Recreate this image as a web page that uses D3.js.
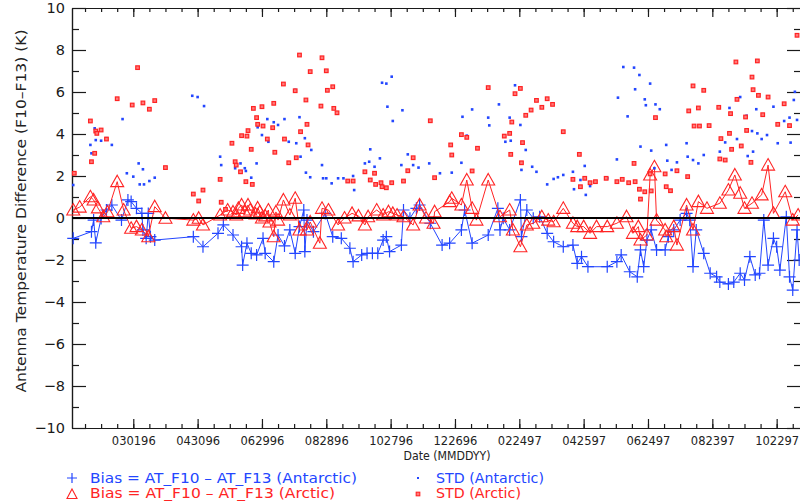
<!DOCTYPE html>
<html><head><meta charset="utf-8">
<script src="https://cdn.jsdelivr.net/npm/d3@7"></script>
<style>body{margin:0;background:#fff}svg{display:block}</style>
</head><body>
<svg id="chart" width="800" height="504"></svg>
<script>
// Day numbers count days since 1 Jan 1996 (UTC).
const epoch = Date.UTC(1996, 0, 1);
const dayToDate = d => new Date(epoch + d * 86400000);

const xDomainDays = [2.85, 682.7];
const majorTickDays = d3.range(60, 661, 60);
const minorTickDays = d3.range(15, 682, 15);
const yMajorTicks = d3.range(-10, 11, 2);
const yMinorTicks = d3.range(-9, 10, 2);

// Bias = AT_F10 - AT_F13 (Antarctic): [day, K]
const antBias = [[4,-0.97],[21,-0.65],[23,-0.10],[25,-1.18],[30,-0.02],[35,0.38],[40,0.62],[49,-0.10],[55,0.86],[58,0.78],[63,0.46],[68,0.22],[69,-0.57],[72,-0.97],[74,0.22],[76,-0.89],[80,-1.05],[116,-0.89],[125,-1.37],[139,-0.73],[144,-0.33],[153,-0.81],[161,-1.37],[162,-2.24],[166,-1.20],[170,-1.68],[175,-1.76],[181,-0.97],[183,-1.68],[191,-2.08],[195,-0.81],[201,-1.33],[206,-0.57],[211,-1.68],[215,-0.41],[219,0.38],[220,-1.60],[222,-0.10],[228,-0.65],[239,0.22],[246,-0.89],[254,-0.97],[262,-1.44],[265,-2.08],[273,-1.76],[278,-1.68],[283,-1.68],[288,-1.68],[293,-1.05],[296,-0.89],[299,-1.60],[310,-1.29],[312,0.38],[318,-0.01],[324,0.46],[327,0.62],[337,-0.25],[348,-1.29],[355,-1.20],[366,-0.57],[369,0.38],[376,-1.20],[391,-0.81],[400,0.46],[402,-0.57],[405,-0.01],[411,-0.57],[421,0.86],[422,-0.89],[427,0.38],[433,-0.01],[439,0.06],[446,-0.73],[452,-1.13],[461,-1.37],[470,-1.29],[474,-2.16],[478,-1.84],[484,-2.32],[502,-2.32],[511,-2.08],[515,-1.76],[523,-2.56],[530,-2.80],[533,-1.52],[536,-2.32],[539,-1.05],[543,-0.57],[548,-1.52],[556,-1.52],[559,-0.89],[564,-0.57],[570,-0.10],[576,0.22],[579,-0.10],[582,-2.32],[585,-0.57],[592,-1.68],[598,-2.63],[604,-2.80],[607,-3.05],[615,-3.14],[620,-3.05],[626,-2.63],[630,-2.95],[635,-1.84],[640,-2.71],[644,-2.63],[648,-0.10],[652,-2.24],[657,-0.97],[660,-1.37],[663,-2.48],[669,0.06],[672,-2.80],[675,-3.43],[679,-0.57],[681,-2.00]];

// Bias = AT_F10 - AT_F13 (Arctic): [day, K]
const arcBias = [[4,0.38],[10,0.52],[20,1.01],[23,0.86],[27,0.48],[32,0.06],[36,0.29],[45,1.73],[51,0.38],[58,-0.49],[63,-0.41],[68,-0.57],[74,-0.89],[80,0.54],[90,-0.01],[116,-0.10],[121,-0.01],[125,-0.33],[141,0.14],[148,0.38],[153,0.29],[156,0.14],[158,0.46],[161,0.62],[164,0.29],[167,0.62],[169,0.38],[174,0.19],[176,0.48],[178,0.29],[180,0.00],[183,0.10],[186,0.38],[187,-0.19],[191,-0.89],[193,0.29],[195,-0.10],[200,0.86],[206,0.14],[211,0.94],[215,-0.57],[222,-0.57],[225,-0.19],[234,-1.20],[236,0.46],[242,0.38],[251,-0.33],[257,0.00],[264,0.22],[270,0.10],[276,-0.33],[279,0.06],[287,0.38],[293,0.14],[298,0.30],[302,0.22],[306,0.14],[312,0.06],[321,-0.33],[327,0.62],[333,0.00],[340,-0.25],[341,0.30],[355,0.78],[357,0.94],[366,0.62],[371,1.81],[376,0.46],[380,-0.10],[391,1.81],[402,0.06],[411,0.38],[414,-0.57],[421,-1.37],[427,-0.33],[433,-0.25],[441,0.06],[447,-0.10],[452,-0.18],[461,0.46],[470,-0.25],[474,-0.41],[480,-0.41],[486,-0.73],[492,-0.41],[502,-0.41],[511,-0.25],[520,0.06],[526,-0.73],[531,-0.41],[533,-1.05],[539,-0.81],[542,2.05],[546,2.44],[548,-0.10],[556,-0.57],[557,-0.89],[564,-0.41],[567,-1.29],[576,0.62],[582,-0.57],[587,0.78],[595,0.46],[607,0.70],[615,1.33],[621,2.05],[626,1.18],[630,0.46],[637,0.70],[646,1.10],[652,2.52],[657,0.22],[668,1.25],[675,-0.10],[680,0.14]];

// STD (Antarctic): [day, K]
const antStd = [[4,1.57],[20,3.48],[21,3.08],[24,4.27],[25,3.71],[30,3.68],[35,3.80],[40,3.48],[50,4.71],[54,2.13],[60,1.97],[65,2.60],[66,1.60],[69,2.32],[70,1.60],[75,1.76],[80,1.92],[115,5.82],[120,5.76],[126,5.33],[141,2.92],[142,2.52],[155,2.37],[160,2.60],[164,2.37],[165,2.24],[170,1.92],[175,2.60],[176,4.32],[180,3.95],[185,4.71],[186,3.63],[191,4.56],[195,4.43],[201,4.71],[205,3.63],[211,6.10],[212,3.56],[215,4.80],[216,2.92],[220,3.80],[221,2.16],[225,1.94],[226,3.24],[236,2.52],[237,1.89],[240,1.89],[245,1.65],[251,1.89],[256,1.89],[260,1.73],[265,2.00],[266,1.33],[276,2.60],[280,2.68],[281,3.27],[285,2.44],[290,2.84],[292,6.44],[296,6.40],[297,5.30],[301,6.73],[302,4.62],[310,2.52],[311,5.13],[316,3.03],[321,2.52],[326,2.40],[336,2.60],[346,2.13],[357,2.16],[366,2.63],[367,4.82],[371,3.92],[376,5.17],[391,4.78],[392,4.41],[401,5.41],[406,3.90],[407,3.63],[411,4.78],[412,3.68],[416,6.32],[421,4.43],[422,2.29],[426,3.24],[432,2.44],[436,2.20],[446,1.60],[452,1.86],[456,1.94],[461,2.05],[470,2.20],[471,1.37],[477,1.81],[481,2.48],[482,1.10],[486,1.52],[502,1.89],[511,2.79],[512,5.73],[517,7.19],[521,4.84],[527,7.16],[528,6.13],[532,6.81],[533,3.40],[537,5.65],[538,5.37],[542,6.40],[543,3.21],[546,2.37],[547,5.41],[551,5.18],[557,3.48],[558,2.73],[562,2.29],[567,2.65],[576,3.56],[577,2.92],[582,2.76],[587,2.60],[592,3.00],[607,3.16],[612,3.60],[616,5.24],[623,3.76],[626,5.76],[632,4.87],[633,2.95],[637,4.14],[638,3.16],[641,5.18],[642,4.03],[646,3.76],[651,3.95],[657,5.30],[661,3.56],[667,4.62],[672,4.78],[673,3.59],[676,5.62],[677,6.01],[679,4.67]];

// STD (Arctic): [day, K]
const arcStd = [[5,2.13],[20,4.62],[21,2.68],[24,3.08],[25,4.14],[26,4.03],[30,4.19],[35,3.76],[45,5.68],[59,5.38],[64,7.16],[69,5.48],[75,5.18],[80,5.59],[90,2.40],[116,1.14],[121,0.81],[125,1.33],[141,1.84],[142,0.75],[146,0.41],[152,3.56],[155,2.68],[156,2.52],[160,2.20],[161,3.92],[165,1.73],[166,3.90],[167,4.16],[170,3.27],[171,1.60],[172,5.22],[175,4.78],[176,4.46],[180,5.30],[181,4.38],[185,3.76],[190,4.30],[191,5.46],[192,3.13],[200,6.38],[201,3.76],[205,2.63],[211,6.06],[212,2.87],[215,7.76],[216,4.11],[221,5.62],[222,4.46],[223,3.48],[225,6.97],[235,5.33],[236,7.63],[240,7.01],[241,6.08],[246,6.25],[247,5.22],[250,5.01],[260,1.76],[265,1.76],[276,2.20],[281,1.81],[285,2.13],[286,1.60],[291,1.68],[292,1.49],[296,1.44],[301,1.68],[312,1.76],[316,2.25],[321,2.87],[337,4.63],[341,1.92],[356,3.48],[357,3.00],[366,3.97],[371,3.84],[376,2.24],[381,3.32],[391,6.21],[406,3.90],[411,4.03],[412,3.03],[413,4.57],[416,5.92],[421,6.17],[422,2.63],[423,3.59],[426,4.89],[431,5.14],[436,5.60],[441,5.27],[446,5.68],[451,5.41],[461,4.11],[470,1.84],[476,3.03],[477,1.49],[481,1.89],[486,1.68],[491,1.73],[501,1.89],[511,1.73],[516,1.84],[522,1.68],[527,2.60],[528,1.73],[532,1.37],[533,0.90],[537,1.25],[542,2.10],[543,1.29],[547,4.78],[556,2.10],[557,1.49],[561,1.30],[567,2.25],[577,1.97],[578,5.10],[582,6.29],[583,4.38],[587,5.24],[588,4.38],[592,6.08],[597,4.40],[606,5.27],[607,2.81],[608,3.78],[612,2.76],[616,4.03],[617,4.97],[618,3.27],[622,7.43],[623,5.65],[627,3.43],[631,4.81],[632,4.17],[636,2.65],[637,6.71],[638,6.11],[642,7.48],[643,5.84],[647,4.92],[652,5.76],[661,4.46],[667,5.44],[672,4.40],[679,8.70]];

const legendItems = [
  {label: "Bias = AT_F10 \u2013 AT_F13 (Antarctic)", kind: "plus",  color: "blue", row: 0, col: 0, len: 267},
  {label: "STD (Antarctic)",                         kind: "dot",   color: "blue", row: 0, col: 1, len: 108},
  {label: "Bias = AT_F10 \u2013 AT_F13 (Arctic)",    kind: "tri",   color: "red",  row: 1, col: 0, len: 245},
  {label: "STD (Arctic)",                            kind: "sq",    color: "red",  row: 1, col: 1, len: 85}
];

const BLUE = "#2346ff", RED = "#ff2424", INK = "#1a1a1a";
const FONT = "'DejaVu Sans', 'Liberation Sans', sans-serif";

const svg = d3.select("#chart");
const box = {l: 72, r: 801, t: 8, b: 428};

const x = d3.scaleUtc().domain(xDomainDays.map(dayToDate)).range([box.l, box.r]);
const y = d3.scaleLinear().domain([-10, 10]).range([box.b, box.t]);
const X = d => x(dayToDate(d[0]));
const Y = d => y(d[1]);

const fmt = d3.utcFormat("%m%d%y");

// ---- axes ----
function styleAxis(g) {
  g.selectAll("path.domain").attr("stroke", INK).attr("stroke-width", 1.2);
  g.selectAll(".tick line").attr("stroke", INK).attr("stroke-width", 1.2);
  g.selectAll("text").attr("fill", INK).attr("font-family", FONT);
}

svg.append("g").attr("transform", `translate(0,${box.b})`)
  .call(d3.axisBottom(x).tickValues(majorTickDays.map(dayToDate)).tickFormat(fmt)
        .tickSizeInner(-9).tickSizeOuter(0).tickPadding(9))
  .call(styleAxis)
  .call(g => g.selectAll("text").attr("font-size", 11.5).attr("fill", "#222"));
svg.append("g").attr("transform", `translate(0,${box.b})`)
  .call(d3.axisBottom(x).tickValues(minorTickDays.map(dayToDate)).tickFormat("")
        .tickSizeInner(-4).tickSizeOuter(0))
  .call(styleAxis);

svg.append("g").attr("transform", `translate(0,${box.t})`)
  .call(d3.axisTop(x).tickValues(majorTickDays.map(dayToDate)).tickFormat("")
        .tickSizeInner(-9).tickSizeOuter(0))
  .call(styleAxis);
svg.append("g").attr("transform", `translate(0,${box.t})`)
  .call(d3.axisTop(x).tickValues(minorTickDays.map(dayToDate)).tickFormat("")
        .tickSizeInner(-4).tickSizeOuter(0))
  .call(styleAxis);

svg.append("g").attr("transform", `translate(${box.l},0)`)
  .call(d3.axisLeft(y).tickValues(yMajorTicks).tickFormat(d => d < 0 ? "\u2212" + Math.abs(d) : d)
        .tickSizeInner(-14).tickSizeOuter(0).tickPadding(7))
  .call(styleAxis)
  .call(g => g.selectAll("text").attr("font-size", 14.5));
svg.append("g").attr("transform", `translate(${box.l},0)`)
  .call(d3.axisLeft(y).tickValues(yMinorTicks).tickFormat("").tickSizeInner(-7).tickSizeOuter(0))
  .call(styleAxis);

svg.append("g").attr("transform", `translate(${box.r},0)`)
  .call(d3.axisRight(y).tickValues(yMajorTicks).tickFormat("").tickSizeInner(-14).tickSizeOuter(0))
  .call(styleAxis);
svg.append("g").attr("transform", `translate(${box.r},0)`)
  .call(d3.axisRight(y).tickValues(yMinorTicks).tickFormat("").tickSizeInner(-7).tickSizeOuter(0))
  .call(styleAxis);

// axis titles
svg.append("text").attr("x", 447).attr("y", 460)
  .attr("text-anchor", "middle").attr("font-family", FONT).attr("font-size", 11.5).attr("fill", "#222")
  .attr("textLength", 87).attr("lengthAdjust", "spacingAndGlyphs")
  .text("Date (MMDDYY)");
svg.append("text").attr("transform", "translate(26,211) rotate(-90)")
  .attr("text-anchor", "middle").attr("font-family", FONT).attr("font-size", 13.5).attr("fill", "#222")
  .attr("textLength", 363).attr("lengthAdjust", "spacingAndGlyphs")
  .text("Antenna Temperature Difference (F10\u2013F13) (K)");

// ---- marks ----
const plot = svg.append("g");
const line = d3.line().x(X).y(Y);

const plusPath = "M-6,0H6M0,-6V6";
const triPath = "M0,-6.5L6.5,5L-6.5,5Z";

plot.append("path").datum(antBias).attr("d", line)
  .attr("fill", "none").attr("stroke", BLUE).attr("stroke-width", 1);
plot.append("g").selectAll("path").data(antBias).join("path")
  .attr("transform", d => `translate(${X(d)},${Y(d)})`).attr("d", plusPath)
  .attr("stroke", BLUE).attr("stroke-width", 1.2).attr("fill", "none");

plot.append("path").datum(arcBias).attr("d", line)
  .attr("fill", "none").attr("stroke", RED).attr("stroke-width", 1);
plot.append("g").selectAll("path").data(arcBias).join("path")
  .attr("transform", d => `translate(${X(d)},${Y(d)})`).attr("d", triPath)
  .attr("stroke", RED).attr("stroke-width", 1.1).attr("fill", "none");

plot.append("g").selectAll("rect").data(antStd).join("rect")
  .attr("x", d => X(d) - 1.3).attr("y", d => Y(d) - 1.3)
  .attr("width", 2.6).attr("height", 2.6).attr("fill", BLUE);

plot.append("g").selectAll("rect").data(arcStd).join("rect")
  .attr("x", d => X(d) - 1.8).attr("y", d => Y(d) - 1.8)
  .attr("width", 3.6).attr("height", 3.6).attr("fill", "#ff7a7a")
  .attr("stroke", RED).attr("stroke-width", 1.2);

// zero reference line
svg.append("line").attr("x1", box.l).attr("x2", box.r).attr("y1", y(0)).attr("y2", y(0))
  .attr("stroke", "#000").attr("stroke-width", 2);

// ---- legend ----
const lg = svg.append("g");
const colX = [72, 418], rowY = [478, 493];
legendItems.forEach(it => {
  const cx = colX[it.col], cy = rowY[it.row];
  const col = it.color === "blue" ? BLUE : RED;
  if (it.kind === "plus") lg.append("path").attr("transform", `translate(${cx},${cy})`).attr("d", "M-5,0H5M0,-5V5").attr("stroke", col).attr("stroke-width", 1.2);
  if (it.kind === "tri") lg.append("path").attr("transform", `translate(${cx},${cy + 1})`).attr("d", "M0,-5L5,4.5L-5,4.5Z").attr("stroke", col).attr("fill", "none").attr("stroke-width", 1.1);
  if (it.kind === "dot") lg.append("rect").attr("x", cx - 1).attr("y", cy - 1).attr("width", 2).attr("height", 2).attr("fill", col);
  if (it.kind === "sq") lg.append("rect").attr("x", cx - 1.8).attr("y", cy - 0.8).attr("width", 3.6).attr("height", 3.6).attr("fill", "#ff7a7a").attr("stroke", col).attr("stroke-width", 1.1);
  lg.append("text").attr("x", cx + 18).attr("y", cy + 5)
    .attr("font-family", FONT).attr("font-size", 13.5).attr("fill", col)
    .attr("textLength", it.len).attr("lengthAdjust", "spacingAndGlyphs")
    .text(it.label);
});
</script>
</body></html>
